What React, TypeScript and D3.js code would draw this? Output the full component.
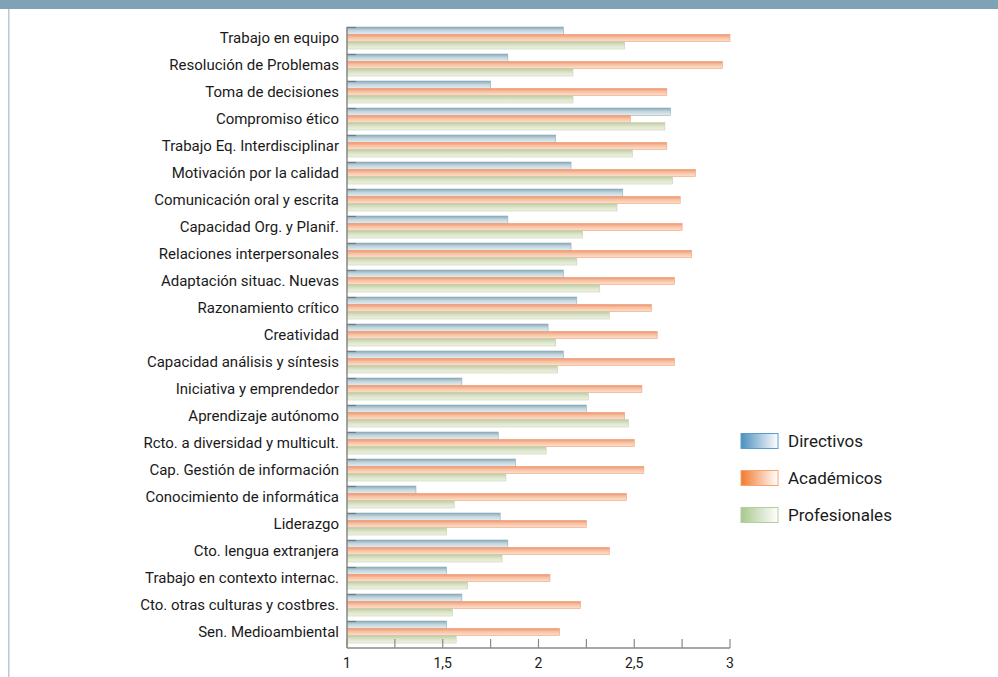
import React from "react";
import * as d3 from "d3";

const categories = [
  "Trabajo en equipo",
  "Resolución de Problemas",
  "Toma de decisiones",
  "Compromiso ético",
  "Trabajo Eq. Interdisciplinar",
  "Motivación por la calidad",
  "Comunicación oral y escrita",
  "Capacidad Org. y Planif.",
  "Relaciones interpersonales",
  "Adaptación situac. Nuevas",
  "Razonamiento crítico",
  "Creatividad",
  "Capacidad análisis y síntesis",
  "Iniciativa y emprendedor",
  "Aprendizaje autónomo",
  "Rcto. a diversidad y multicult.",
  "Cap. Gestión de información",
  "Conocimiento de informática",
  "Liderazgo",
  "Cto. lengua extranjera",
  "Trabajo en contexto internac.",
  "Cto. otras culturas y costbres.",
  "Sen. Medioambiental",
];

const directivos = [2.13, 1.84, 1.75, 2.69, 2.09, 2.17, 2.44, 1.84, 2.17, 2.13, 2.2, 2.05, 2.13, 1.6, 2.25, 1.79, 1.88, 1.36, 1.8, 1.84, 1.52, 1.6, 1.52];
const academicos = [3.0, 2.96, 2.67, 2.48, 2.67, 2.82, 2.74, 2.75, 2.8, 2.71, 2.59, 2.62, 2.71, 2.54, 2.45, 2.5, 2.55, 2.46, 2.25, 2.37, 2.06, 2.22, 2.11];
const profesionales = [2.45, 2.18, 2.18, 2.66, 2.49, 2.7, 2.41, 2.23, 2.2, 2.32, 2.37, 2.09, 2.1, 2.26, 2.47, 2.04, 1.83, 1.56, 1.52, 1.81, 1.63, 1.55, 1.57];

const seriesNames = ["Directivos", "Académicos", "Profesionales"];
const seriesValues = [directivos, academicos, profesionales];

const tickValues = [1, 1.25, 1.5, 1.75, 2, 2.25, 2.5, 2.75, 3];
const tickLabels: Record<string, string> = { "1": "1", "1.5": "1,5", "2": "2", "2.5": "2,5", "3": "3" };

const barGrad = [
  ["#86a8b8", "#c1d4db", "#e4ecef"],
  ["#ee946e", "#f8c2a2", "#fde2d1"],
  ["#bccba1", "#dce3c8", "#f0f2e5"],
];
const barStroke = ["#93b0bd", "#efa280", "#c6d1af"];
const legendGrad = [
  ["#4b8fbf", "#ffffff", "#5b9dc8"],
  ["#f27a2e", "#ffffff", "#f7a473"],
  ["#a9c78f", "#ffffff", "#b3cf9c"],
];

const FONT = "Roboto, 'Open Sans', sans-serif";

export default function App() {
  const x = d3.scaleLinear().domain([1, 3]).range([347, 730]);
  const y = d3.scaleBand<string>().domain(categories).range([27, 648]).paddingInner(0.185).paddingOuter(0.0925).align(0);
  const ys = d3.scaleBand<string>().domain(seriesNames).range([0, y.bandwidth()]);
  const legendY = d3.scalePoint<string>().domain(seriesNames).range([441, 515]);

  return (
    <div style={{ position: "fixed", left: 0, top: 0, width: 998, height: 677, background: "#fff" }}>
      <svg width={998} height={677} style={{ display: "block" }}>
        <defs>
          {barGrad.map((g, i) => (
            <linearGradient key={i} id={`bg${i}`} x1="0" y1="0" x2="0" y2="1">
              <stop offset="0%" stopColor={g[0]} />
              <stop offset="45%" stopColor={g[1]} />
              <stop offset="100%" stopColor={g[2]} />
            </linearGradient>
          ))}
          {legendGrad.map((g, i) => (
            <linearGradient key={i} id={`lg${i}`} x1="0" y1="0" x2="1" y2="0">
              <stop offset="0%" stopColor={g[0]} />
              <stop offset="100%" stopColor={g[1]} />
            </linearGradient>
          ))}
        </defs>
        <rect x={0} y={0} width={998} height={9} fill="#7fa2b6" />
        <rect x={8} y={9} width={1.5} height={668} fill="#b9c9d6" />

        {/* bars */}
        {categories.map((c, ci) => (
          <g key={c} transform={`translate(0,${y(c)})`}>
            {seriesNames.map((s, si) => (
              <rect
                key={s}
                x={x(1)}
                y={ys(s)!}
                width={x(seriesValues[si][ci]) - x(1)}
                height={ys.bandwidth()}
                fill={`url(#bg${si})`}
                stroke={barStroke[si]}
                strokeWidth={0.6}
              />
            ))}
          </g>
        ))}

        {/* y axis */}
        <line x1={x(1)} x2={x(1)} y1={27} y2={648} stroke="#8a8a8a" strokeWidth={1.5} />
        {categories.map((c) => (
          <line key={c} x1={x(1)} x2={x(1) + 9} y1={y(c)! + 0.5} y2={y(c)! + 0.5} stroke="#7a7a7a" strokeWidth={1.2} />
        ))}
        {categories.map((c) => (
          <text
            key={c}
            x={339}
            y={y(c)! + y.bandwidth() / 2}
            dy="0.36em"
            textAnchor="end"
            fontFamily={FONT}
            fontSize={15}
            fill="#1a1a1a"
          >
            {c}
          </text>
        ))}

        {/* x axis */}
        <line x1={x(1)} x2={x(3)} y1={648} y2={648} stroke="#8a8a8a" strokeWidth={1.5} />
        {tickValues.map((t) => (
          <line key={t} x1={x(t)} x2={x(t)} y1={639} y2={648} stroke="#8a8a8a" strokeWidth={1.2} />
        ))}
        {tickValues
          .filter((t) => tickLabels[String(t)] !== undefined)
          .map((t) => (
            <text key={t} x={x(t)} y={663} dy="0.36em" textAnchor="middle" fontFamily={FONT} fontSize={14} fill="#1a1a1a">
              {tickLabels[String(t)]}
            </text>
          ))}

        {/* legend */}
        {seriesNames.map((s, si) => (
          <g key={s} transform={`translate(741,${legendY(s)})`}>
            <rect x={0} y={-7.5} width={37} height={15} fill={`url(#lg${si})`} stroke={legendGrad[si][2]} strokeWidth={1} />
            <text x={47} y={0} dy="0.36em" fontFamily={FONT} fontSize={17} fill="#1a1a1a">
              {s}
            </text>
          </g>
        ))}
      </svg>
    </div>
  );
}
